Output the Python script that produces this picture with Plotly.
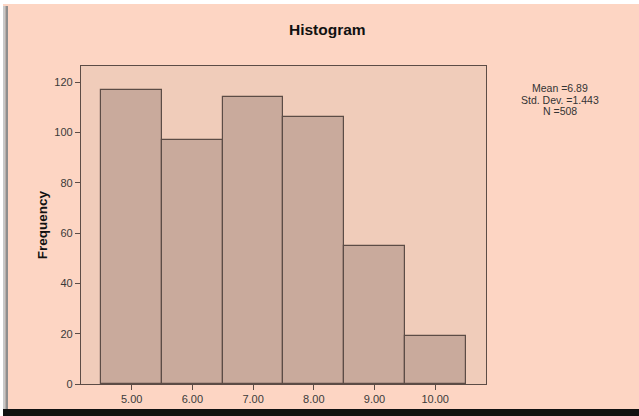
import plotly.graph_objects as go

# Data
bin_centers = [5, 6, 7, 8, 9, 10]
frequencies = [117, 97, 114, 106, 55, 19]
tick_labels = ["5.00", "6.00", "7.00", "8.00", "9.00", "10.00"]
y_ticks = [0, 20, 40, 60, 80, 100, 120]
stats_lines = ["Mean =6.89", "Std. Dev. =1.443", "N =508"]

W, H = 639, 416
L, R, T, B = 81, 486, 66, 384  # plot area in pixels


def px(x):
    return (x - L) / (R - L)


def py(y):
    return (B - y) / (B - T)


OUTER = "#FDD5C3"
INNER = "#F0CCBA"
BAR = "#C9AA9C"
EDGE = "#5C4C46"
FONT = "Liberation Sans, Arial, sans-serif"

fig = go.Figure()
fig.add_trace(go.Bar(
    x=bin_centers, y=frequencies, width=1,
    marker=dict(color=BAR, line=dict(color=EDGE, width=1.2)),
    hoverinfo="skip",
))

shapes = [
    # white top strip
    dict(type="rect", xref="paper", yref="paper", x0=px(0), x1=px(W), y0=py(0), y1=py(4),
         fillcolor="white", line=dict(width=0), layer="above"),
    # white left strip
    dict(type="rect", xref="paper", yref="paper", x0=px(0), x1=px(3), y0=py(0), y1=py(H),
         fillcolor="white", line=dict(width=0), layer="above"),
    # gray shadow left
    dict(type="rect", xref="paper", yref="paper", x0=px(3), x1=px(5.5), y0=py(6), y1=py(409),
         fillcolor="#C8C8C8", line=dict(width=0), layer="above"),
    dict(type="rect", xref="paper", yref="paper", x0=px(5.5), x1=px(8), y0=py(6), y1=py(409),
         fillcolor="#8E8E8E", line=dict(width=0), layer="above"),
    # black band bottom
    dict(type="rect", xref="paper", yref="paper", x0=px(3), x1=px(W), y0=py(409), y1=py(H),
         fillcolor="#111111", line=dict(width=0), layer="above"),
]

annotations = [
    dict(text="<b>Histogram</b>", xref="paper", yref="paper", x=px(327), y=py(29.5),
         xanchor="center", yanchor="middle", showarrow=False,
         font=dict(family=FONT, size=15.5, color="#111111")),
]
for i, line in enumerate(stats_lines):
    annotations.append(dict(
        text=line, xref="paper", yref="paper", x=px(560), y=py(88 + i * 11.5),
        xanchor="center", yanchor="middle", showarrow=False,
        font=dict(family=FONT, size=10.5, color="#333333")))

fig.update_layout(
    width=W, height=H,
    margin=dict(l=L, r=W - R, t=T, b=H - B, pad=0),
    paper_bgcolor=OUTER, plot_bgcolor=INNER,
    showlegend=False,
    bargap=0,
    shapes=shapes,
    annotations=annotations,
    font=dict(family=FONT, size=11, color="#3A3A3A"),
)
fig.update_xaxes(
    range=[4.165, 10.837], tickvals=bin_centers, ticktext=tick_labels,
    ticks="outside", ticklen=5, tickcolor=EDGE, tickwidth=1.2,
    showline=True, linecolor=EDGE, linewidth=1.2, mirror=True,
    showgrid=False, zeroline=False,
    tickfont=dict(family=FONT, size=11, color="#3A3A3A"),
)
fig.update_yaxes(
    range=[0, 126.4], tickvals=y_ticks,
    ticks="outside", ticklen=5, tickcolor=EDGE, tickwidth=1.2,
    showline=True, linecolor=EDGE, linewidth=1.2, mirror=True,
    showgrid=False, zeroline=False,
    tickfont=dict(family=FONT, size=11, color="#3A3A3A"),
    title=dict(text="<b>Frequency</b>", standoff=3,
               font=dict(family=FONT, size=13.5, color="#111111")),
)

fig.write_html(
    "out.html",
    config={"displayModeBar": False},
    post_script="document.body.style.margin='0';document.body.style.overflow='hidden';",
)
